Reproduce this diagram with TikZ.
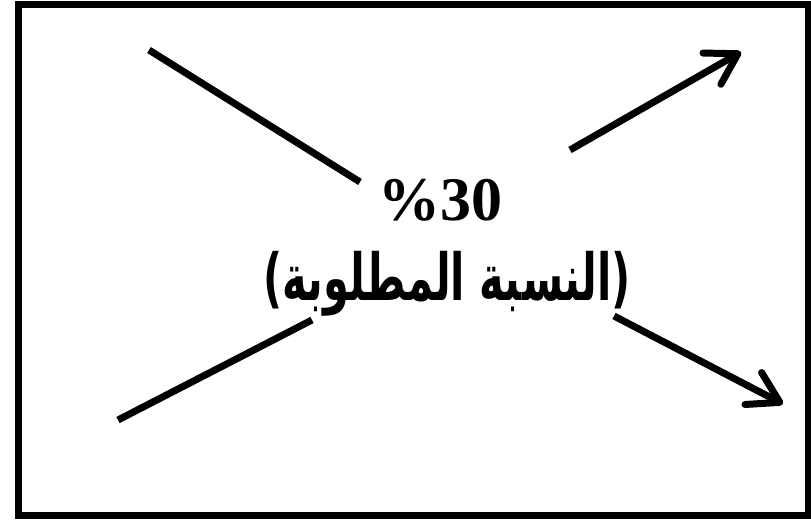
\documentclass[tikz,border=0pt]{standalone}
\usepackage{fontspec}
\setmainfont{Liberation Serif}
\newfontfamily\arabicfont[Script=Arabic]{DejaVu Sans}
\TeXXeTstate=1
\usetikzlibrary{arrows.meta}
\tikzset{
  frame/.style={draw=black, line width=7pt},
  ray/.style={draw=black, line width=7pt},
  rayarr/.style={ray, -{Straight Barb[round, length=30pt, width=36pt]}},
}

\begin{document}
\begin{tikzpicture}[x=1pt, y=-1pt]
  \useasboundingbox (0,0) rectangle (811,521);
  \draw[frame] (18.5,5) rectangle (808,515);
  % central label
  \node[font=\bfseries\fontsize{62}{70}\selectfont, inner sep=0pt] (pct) at (440,200) {\%30};
  \node[font=\arabicfont\bfseries\fontsize{48}{56}\selectfont, inner sep=0pt,
        xscale=0.87, yscale=1.35, transform shape] (req) at (447,284) {\beginR(النسبة المطلوبة)\endR};
  % ray ends
  \coordinate (tlout) at (149,50);
  \coordinate (tlin) at (360,182);
  \coordinate (trin) at (570,150);
  \coordinate (trout) at (741,52);
  \coordinate (blout) at (118,420);
  \coordinate (blin) at (312,320);
  \coordinate (brin) at (614,316);
  \coordinate (brout) at (783,404);
  \draw[ray] (tlout) -- (tlin);
  \draw[rayarr] (trin) -- (trout);
  \draw[ray] (blout) -- (blin);
  \draw[rayarr] (brin) -- (brout);
\end{tikzpicture}
\end{document}
